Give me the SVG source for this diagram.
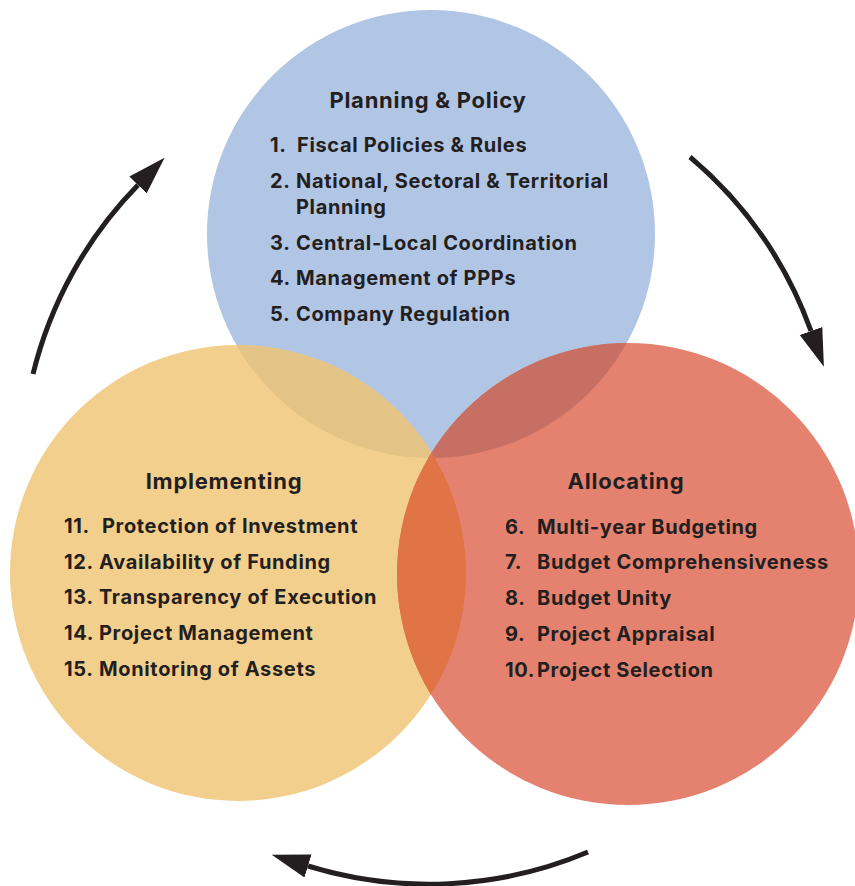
<svg xmlns="http://www.w3.org/2000/svg" width="855" height="886" viewBox="0 0 855 886">
<style>
.t{font-family:Inter,"Open Sans","Liberation Sans",sans-serif;font-weight:700;fill:#231F20;font-size:20px;letter-spacing:0.65px}
.h{text-anchor:middle;font-size:22px;letter-spacing:0.75px}
.arc{fill:none;stroke:#231F20;stroke-width:5}
</style>
<defs>
<circle id="cb" cx="431" cy="234" r="224"/>
<circle id="cy" cx="238" cy="573" r="228"/>
<circle id="cr" cx="628" cy="574" r="231"/>
<clipPath id="clipB"><use href="#cb"/></clipPath>
<clipPath id="clipY"><use href="#cy"/></clipPath>
<marker id="ah" markerUnits="userSpaceOnUse" markerWidth="40" markerHeight="30" refX="0" refY="12" orient="auto" viewBox="0 0 40 24">
<path d="M0,0 L38,12 L0,24 Z" fill="#231F20"/>
</marker>
</defs>
<g id="planning">
<use href="#cb" fill="#B1C5E5"/>
</g>
<g id="implementing">
<use href="#cy" fill="#F3CF8D"/>
<use href="#cy" fill="#E3C486" clip-path="url(#clipB)"/>
</g>
<g id="allocating">
<use href="#cr" fill="#E4826F"/>
<use href="#cr" fill="#C86F64" clip-path="url(#clipB)"/>
<use href="#cr" fill="#E07447" clip-path="url(#clipY)"/>
</g>
<g id="planning-text">
<text class="t h" x="428" y="108">Planning &amp; Policy</text>
<text class="t" x="270" y="152">1.</text><text class="t" x="297" y="152">Fiscal Policies &amp; Rules</text>
<text class="t" x="270" y="188">2.</text><text class="t" x="296" y="188">National, Sectoral &amp; Territorial</text>
<text class="t" x="296" y="214">Planning</text>
<text class="t" x="270" y="250">3.</text><text class="t" x="296" y="250">Central-Local Coordination</text>
<text class="t" x="270" y="285">4.</text><text class="t" x="296" y="285">Management of PPPs</text>
<text class="t" x="270" y="321">5.</text><text class="t" x="296" y="321">Company Regulation</text>
</g>
<g id="implementing-text">
<text class="t h" x="224" y="489">Implementing</text>
<text class="t" x="64" y="533">11.</text><text class="t" x="102" y="533">Protection of Investment</text>
<text class="t" x="64" y="569">12.</text><text class="t" x="99" y="569">Availability of Funding</text>
<text class="t" x="64" y="604">13.</text><text class="t" x="99" y="604">Transparency of Execution</text>
<text class="t" x="64" y="640">14.</text><text class="t" x="99" y="640">Project Management</text>
<text class="t" x="64" y="676">15.</text><text class="t" x="99" y="676">Monitoring of Assets</text>
</g>
<g id="allocating-text">
<text class="t h" x="626" y="489">Allocating</text>
<text class="t" x="505" y="534">6.</text><text class="t" x="537" y="534">Multi-year Budgeting</text>
<text class="t" x="505" y="569">7.</text><text class="t" x="537" y="569">Budget Comprehensiveness</text>
<text class="t" x="505" y="605">8.</text><text class="t" x="537" y="605">Budget Unity</text>
<text class="t" x="505" y="641">9.</text><text class="t" x="537" y="641">Project Appraisal</text>
<text class="t" x="505" y="677">10.</text><text class="t" x="537" y="677">Project Selection</text>
</g>
<g id="connectors">
<path class="arc" d="M33,374 A410,410 0 0 1 138,185" marker-end="url(#ah)"/>
<path class="arc" d="M690,157 A410,410 0 0 1 811,331" marker-end="url(#ah)"/>
<path class="arc" d="M588,852 A410,410 0 0 1 308,866" marker-end="url(#ah)"/>
</g>
</svg>
